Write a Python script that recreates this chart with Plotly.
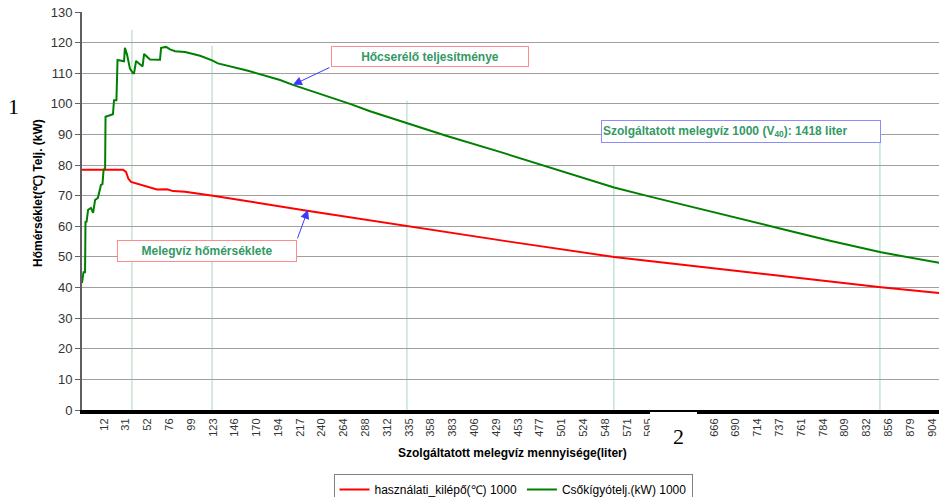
import plotly.graph_objects as go

# Category labels on the x axis (liters)
x_labels = ["12", "31", "52", "76", "99", "123", "146", "170", "194", "217", "240",
            "264", "288", "312", "335", "358", "383", "406", "429", "453", "477",
            "501", "524", "548", "571", "595", "618", "642", "666", "690", "714",
            "737", "761", "784", "809", "832", "856", "879", "904"]

# Series positions are given in category-slot units (0 = "12", 38 = "904")
green_x = [-1.01, -0.94, -0.87, -0.85, -0.80, -0.73, -0.60, -0.50, -0.41, -0.28,
           -0.14, -0.07, -0.02, 0.05, 0.07, 0.18, 0.41, 0.46, 0.57, 0.62,
           0.92, 0.96, 1.06, 1.19, 1.33, 1.38, 1.47, 1.77, 1.84, 2.11,
           2.57, 2.62, 2.85, 3.03, 3.26, 3.72, 4.41, 4.96, 5.23, 6.61,
           8.08, 8.67, 9.91, 11.29, 12.21, 13.91, 15.74, 18.17, 21.84, 23.41,
           25.06, 28.27, 31.02, 33.32, 35.66, 38.46]
green_y = [41.5, 45.0, 45.0, 61.4, 61.5, 65.4, 66.0, 64.4, 68.6, 69.3,
           73.5, 73.8, 78.4, 79.0, 95.8, 96.0, 96.6, 101.2, 101.2, 114.3,
           113.9, 118.3, 116.0, 111.5, 110.0, 110.0, 114.0, 112.2, 116.3, 114.5,
           114.4, 118.3, 118.6, 117.8, 117.2, 116.9, 115.7, 114.2, 113.2, 110.8,
           107.8, 106.2, 103.3, 100.0, 97.6, 93.7, 89.5, 84.3, 76.0, 72.7,
           69.7, 64.0, 59.3, 55.3, 51.5, 47.9]

red_x = [-1.01, 0.87, 1.01, 1.12, 1.24, 1.47, 2.11, 2.43, 2.89, 3.17, 3.72,
         5.00, 9.32, 13.91, 18.60, 23.41, 29.60, 33.32, 35.66, 38.46]
red_y = [78.5, 78.5, 77.8, 75.5, 74.5, 74.0, 72.5, 72.0, 72.1, 71.5, 71.3,
         70.0, 65.1, 60.0, 55.0, 50.0, 44.9, 41.9, 40.1, 38.1]

# light green vertical marker lines (slot position, top value)
vline_x = [1.28, 4.96, 13.90, 23.40, 35.61]
vline_top = [124.2, 119.0, 101.0, 80.0, 88.0]

name_red = "használati_kilépő(℃) 1000"
name_green = "Csőkígyótelj.(kW) 1000"

FONT = "Liberation Sans, Arial, sans-serif"
TXT_GREEN = "#339966"

fig = go.Figure()
fig.add_trace(go.Scatter(x=red_x, y=red_y, mode="lines", name=name_red,
                         line=dict(color="#ff0000", width=2)))
fig.add_trace(go.Scatter(x=green_x, y=green_y, mode="lines", name=name_green,
                         line=dict(color="#008000", width=2)))

# plot area in reference pixels: x 82..942, y 12..410
def px_x(p):
    return (p - 82) / 860

def px_y(p):
    return (410 - p) / 398

shapes = []
for vx, vt in zip(vline_x, vline_top):
    shapes.append(dict(type="line", xref="x", yref="y", x0=vx, x1=vx, y0=0, y1=vt,
                       line=dict(color="#c4e4d0", width=1.5), layer="below"))
# right border
shapes.append(dict(type="line", xref="paper", yref="paper", x0=1, x1=1, y0=0, y1=1,
                   line=dict(color="#a0a0a0", width=2)))
# white patch over axis labels
shapes.append(dict(type="rect", xref="paper", yref="paper",
                   x0=px_x(650), x1=px_x(697), y0=px_y(447), y1=px_y(412),
                   fillcolor="white", line=dict(width=0), layer="above"))

C = dict(xanchor="center", yanchor="middle", showarrow=False)
annotations = [
    # axis titles
    dict(text="<b>Hőmérséklet(℃) Telj. (kW)</b>", xref="paper", yref="paper",
         x=px_x(38), y=px_y(193), textangle=-90,
         font=dict(size=12, color="#000000", family=FONT), **C),
    dict(text="<b>Szolgáltatott melegvíz mennyisége(liter)</b>", xref="paper", yref="paper",
         x=px_x(512), y=px_y(453),
         font=dict(size=12, color="#000000", family=FONT), **C),
    # callout boxes
    dict(text="<b>Hőcserélő teljesítménye</b>", xref="paper", yref="paper",
         x=px_x(430), y=px_y(56.5), width=196, height=19,
         bordercolor="#ff8c8c", borderwidth=1, borderpad=0, bgcolor="white",
         font=dict(size=12, color=TXT_GREEN, family=FONT), **C),
    dict(text="<b>Szolgáltatott melegvíz 1000 (V<sub>40</sub>): 1418 liter</b>",
         xref="paper", yref="paper", x=px_x(741), y=px_y(131),
         width=276, height=19, align="left",
         bordercolor="#8c8cff", borderwidth=1, borderpad=1, bgcolor="white",
         font=dict(size=12, color=TXT_GREEN, family=FONT), **C),
    dict(text="<b>Melegvíz hőmérséklete</b>", xref="paper", yref="paper",
         x=px_x(207), y=px_y(251), width=178, height=20,
         bordercolor="#ff8c8c", borderwidth=1, borderpad=0, bgcolor="white",
         font=dict(size=12, color=TXT_GREEN, family=FONT), **C),
    # arrows
    dict(text="", x=8.67, y=106.2, xref="x", yref="y", ax=38, ay=-18,
         showarrow=True, arrowhead=2, arrowsize=1.8, arrowwidth=1, arrowcolor="#3a3aff"),
    dict(text="", x=9.36, y=65.4, xref="x", yref="y", ax=-11, ay=30,
         showarrow=True, arrowhead=2, arrowsize=1.8, arrowwidth=1, arrowcolor="#3a3aff"),
    # overlay numerals
    dict(text="1", xref="paper", yref="paper", x=px_x(13), y=px_y(107),
         font=dict(size=22, color="#000000", family="Liberation Serif, serif"), **C),
    dict(text="2", xref="paper", yref="paper", x=px_x(678), y=px_y(437),
         font=dict(size=22, color="#000000", family="Liberation Serif, serif"), **C),
]

# the page body adds an 8px offset, so the figure is 8px smaller and margins shifted
fig.update_layout(
    width=939, height=489,
    margin=dict(l=74, r=5, t=4, b=87, autoexpand=False),
    paper_bgcolor="white", plot_bgcolor="white",
    font=dict(family=FONT, color="#333333"),
    showlegend=True,
    legend=dict(orientation="h", x=px_x(513), xanchor="center", y=px_y(474), yanchor="top",
                bordercolor="#808080", borderwidth=1, font=dict(size=12, color="#000000"),
                itemwidth=30, tracegroupgap=0),
    shapes=shapes,
    annotations=annotations,
)
fig.update_xaxes(range=[-1.01, 38.46], tickmode="array", tickvals=list(range(len(x_labels))),
                 ticktext=x_labels, tickangle=-90, tickfont=dict(size=11, color="#333333"),
                 showgrid=False, zeroline=False, showline=True, linecolor="#000000",
                 linewidth=4, ticks="", automargin=False, ticklabeloverflow="allow")
fig.update_yaxes(range=[0, 130], dtick=10, tick0=0, showgrid=True, gridcolor="#a0a0a0",
                 gridwidth=1, zeroline=False, showline=True, linecolor="#606060",
                 linewidth=2, ticks="outside", ticklen=5, tickcolor="#606060",
                 tickfont=dict(size=13, color="#333333"), automargin=False,
                 ticklabeloverflow="allow")

fig.write_html("out.html")
